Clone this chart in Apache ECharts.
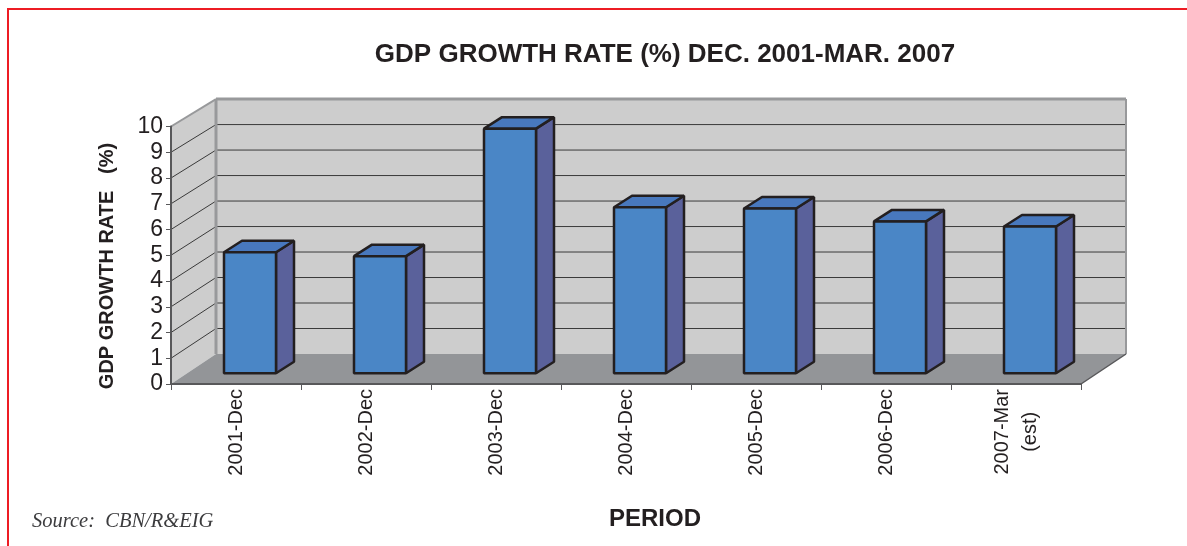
<!DOCTYPE html>
<html>
<head>
<meta charset="utf-8">
<style>
  html, body { margin: 0; padding: 0; background: #fff; }
  #chart { width: 1187px; height: 546px; }
</style>
<script src="https://cdn.jsdelivr.net/npm/echarts@6/dist/echarts.min.js"></script>
</head>
<body>
<div id="chart"></div>
<script>
// values
const categories = ['2001-Dec', '2002-Dec', '2003-Dec', '2004-Dec', '2005-Dec', '2006-Dec', '2007-Mar\n(est)'];
const growthRates = [4.7, 4.55, 9.5, 6.45, 6.4, 5.9, 5.7];
const wallLevels = [1, 2, 3, 4, 5, 6, 7, 8, 9];

const SANS = '"Liberation Sans", Arial, sans-serif';

const COLORS = {
  wall: '#cdcdcd',
  wallEdge: '#98999b',
  floor: '#939598',
  gridLine: '#3a3a3a',
  barFront: '#4a86c6',
  barTop: '#4878bd',
  barSide: '#5a619b',
  barEdge: '#231f20',
  axis: '#58585a',
  text: '#231f20',
  frame: '#ed1c24'
};

// fake 3d offsets, in pixels
const DEPTH = { x: 45, y: -30, shrink: 0.99 };
const BAR_FRONT = { x: 14, y: -10.7 };
const BAR_DEPTH = { x: 18, y: -11.5 };

const poly = (points, fill, stroke, lineWidth) => ({
  type: 'polygon',
  shape: { points },
  style: { fill, stroke: stroke || null, lineWidth: lineWidth || 0, lineJoin: 'bevel' }
});
const line = (a, b, stroke, lineWidth) => ({
  type: 'line',
  shape: { x1: a[0], y1: a[1], x2: b[0], y2: b[1] },
  style: { stroke, lineWidth, fill: null }
});

// side wall, back wall, floor and the grid lines on them
const renderWalls = (params, api) => {
  const rect = params.coordSys;
  const left = rect.x;
  const right = rect.x + rect.width;
  const y0 = api.coord([0, 0])[1];
  const y10 = api.coord([0, 10])[1];
  const backY = (y) => y0 + (y - y0) * DEPTH.shrink + DEPTH.y;
  const bx0 = left + DEPTH.x;
  const bx1 = right + DEPTH.x;
  const children = [
    poly([[left, y0], [bx0, backY(y0)], [bx0, backY(y10)], [left, y10]], COLORS.wall),
    poly([[bx0, backY(y0)], [bx1, backY(y0)], [bx1, backY(y10)], [bx0, backY(y10)]], COLORS.wall),
    poly([[left, y0], [right, y0], [bx1, backY(y0)], [bx0, backY(y0)]], COLORS.floor)
  ];
  wallLevels.forEach((level) => {
    const y = api.coord([0, level])[1];
    children.push(line([left, y], [bx0, backY(y)], COLORS.gridLine, 1));
    children.push(line([bx0, backY(y)], [bx1, backY(y)], COLORS.gridLine, 1));
  });
  children.push(line([left, y10], [bx0, backY(y10)], COLORS.wallEdge, 2));
  children.push(line([bx0, backY(y10)], [bx1, backY(y10)], COLORS.wallEdge, 3));
  children.push(line([bx0, backY(y10)], [bx0, backY(y0)], COLORS.wallEdge, 3));
  children.push(line([bx1, backY(y10)], [bx1, backY(y0)], COLORS.wallEdge, 2));
  children.push(line([right, y0], [bx1, backY(y0)], COLORS.axis, 1.5));
  return { type: 'group', children };
};

const renderBar = (params, api) => {
  const center = api.coord([api.value(0), api.value(1)]);
  const base = api.coord([api.value(0), 0]);
  const width = api.size([1, 0])[0] * 0.4;
  const x0 = center[0] - width / 2 + BAR_FRONT.x;
  const x1 = x0 + width;
  const top = center[1] + BAR_FRONT.y;
  const bottom = base[1] + BAR_FRONT.y;
  const dx = BAR_DEPTH.x;
  const dy = BAR_DEPTH.y;
  return {
    type: 'group',
    children: [
      poly([[x1, top], [x1 + dx, top + dy], [x1 + dx, bottom + dy], [x1, bottom]], COLORS.barSide, COLORS.barEdge, 2.5),
      poly([[x0, top], [x0 + dx, top + dy], [x1 + dx, top + dy], [x1, top]], COLORS.barTop, COLORS.barEdge, 2.5),
      poly([[x0, top], [x1, top], [x1, bottom], [x0, bottom]], COLORS.barFront, COLORS.barEdge, 2.5)
    ]
  };
};

const chart = echarts.init(document.getElementById('chart'));

chart.setOption({
  animation: false,
  backgroundColor: '#fff',
  textStyle: { fontFamily: SANS },
  title: [
    {
      text: 'GDP GROWTH RATE (%) DEC. 2001-MAR. 2007',
      left: 665,
      top: 42,
      padding: 0,
      textAlign: 'center',
      textStyle: { color: COLORS.text, fontSize: 26, fontWeight: 'bold', fontFamily: SANS }
    },
    {
      text: 'PERIOD',
      left: 655,
      top: 507,
      padding: 0,
      textAlign: 'center',
      textStyle: { color: COLORS.text, fontSize: 24, fontWeight: 'bold', fontFamily: SANS }
    },
    {
      text: 'Source:  CBN/R&EIG',
      left: 32,
      top: 512,
      padding: 0,
      textStyle: {
        color: '#3c3c3e',
        fontSize: 20.5,
        fontWeight: 'normal',
        fontStyle: 'italic',
        fontFamily: '"Liberation Serif", serif'
      }
    }
  ],
  grid: { left: 171, top: 126.5, width: 910, height: 257.5, containLabel: false },
  xAxis: {
    type: 'category',
    data: categories,
    z: 5,
    axisLine: { lineStyle: { color: COLORS.axis, width: 2 } },
    axisTick: { show: true, length: 6, lineStyle: { color: COLORS.axis, width: 1 } },
    axisLabel: {
      rotate: 90,
      color: COLORS.text,
      fontSize: 20,
      margin: 5,
      interval: 0,
      lineHeight: 28,
      // the two line label is centred on itself
      formatter: (value) => value.split('\n').map((part) => `{c|${part}}`).join('\n'),
      rich: { c: { align: 'center', fontSize: 20, lineHeight: 28, color: COLORS.text, fontFamily: SANS } }
    }
  },
  yAxis: {
    type: 'value',
    min: 0,
    max: 10,
    interval: 1,
    z: 5,
    axisLine: { show: true, lineStyle: { color: COLORS.axis, width: 2 } },
    axisTick: { show: true, length: 5, lineStyle: { color: COLORS.axis, width: 1 } },
    axisLabel: { color: COLORS.text, fontSize: 23, margin: 8 },
    splitLine: { show: false }
  },
  graphic: [
    {
      type: 'text',
      x: 107,
      y: 266,
      rotation: Math.PI / 2,
      style: {
        text: 'GDP GROWTH RATE   (%)',
        fill: COLORS.text,
        font: 'bold 20px "Liberation Sans", Arial, sans-serif',
        align: 'center',
        verticalAlign: 'middle'
      }
    },
    {
      type: 'polyline',
      shape: { points: [[1187, 9], [8, 9], [8, 546]] },
      style: { stroke: COLORS.frame, lineWidth: 2, fill: null }
    }
  ],
  series: [
    {
      type: 'custom',
      silent: true,
      z: 1,
      renderItem: renderWalls,
      data: [[0, 0]],
      encode: { x: 0, y: 1 }
    },
    {
      type: 'custom',
      name: 'GDP growth rate',
      z: 2,
      renderItem: renderBar,
      data: growthRates.map((value, i) => [i, value]),
      encode: { x: 0, y: 1 }
    }
  ]
});
</script>
</body>
</html>
